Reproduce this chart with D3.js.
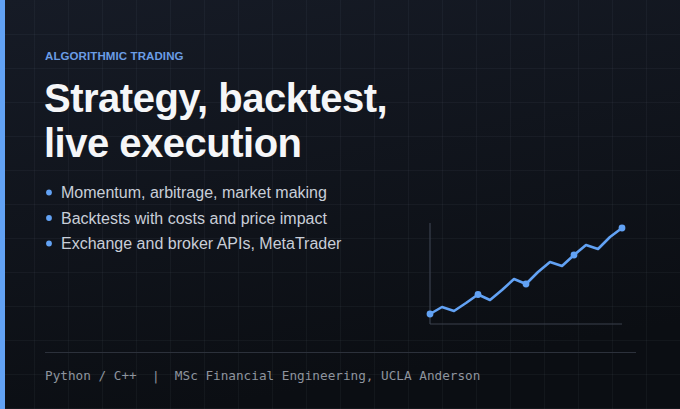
<!DOCTYPE html>
<html>
<head>
<meta charset="utf-8">
<script src="https://cdn.jsdelivr.net/npm/d3@7"></script>
<style>
  html, body { margin: 0; padding: 0; background: #0d1117; }
  svg { display: block; }
</style>
</head>
<body>
<svg width="680" height="409"></svg>
<script>
// card content
const kicker = "ALGORITHMIC TRADING";
const titleLines = ["Strategy, backtest,", "live execution"];
const bullets = [
    "Momentum, arbitrage, market making",
    "Backtests with costs and price impact",
    "Exchange and broker APIs, MetaTrader"
];
const footer = "Python / C++  |  MSc Financial Engineering, UCLA Anderson";

// equity curve (arbitrary units, 0-100)
const steps = d3.range(17);
const equity = [10, 17, 13, 21, 29.5, 24, 34, 45, 40, 52, 62, 58, 69, 79, 75, 87, 96];
const markedSteps = [0, 4, 8, 12, 16];

const svg = d3.select("svg");
const width = 680, height = 409;
const accent = "#62a2f4";

// background gradient
const defs = svg.append("defs");
const grad = defs.append("linearGradient")
    .attr("id", "bg")
    .attr("x1", 0).attr("y1", 0).attr("x2", 0.3).attr("y2", 1);
grad.append("stop").attr("offset", "0%").attr("stop-color", "#161b26");
grad.append("stop").attr("offset", "100%").attr("stop-color", "#0b0e13");

svg.append("rect")
    .attr("width", width).attr("height", height)
    .attr("fill", "url(#bg)");

// faint grid, 34px cells
const grid = svg.append("g").attr("stroke", "rgba(160,175,200,0.055)").attr("stroke-width", 1);
grid.selectAll("line.v")
    .data(d3.range(34, width, 34))
    .join("line")
    .attr("class", "v")
    .attr("x1", d => d + 0.5).attr("x2", d => d + 0.5)
    .attr("y1", 0).attr("y2", height);
grid.selectAll("line.h")
    .data(d3.range(34, height, 34))
    .join("line")
    .attr("class", "h")
    .attr("y1", d => d + 0.5).attr("y2", d => d + 0.5)
    .attr("x1", 0).attr("x2", width);

// left accent bar
svg.append("rect")
    .attr("width", 5).attr("height", height)
    .attr("fill", accent);

// kicker
svg.append("text")
    .attr("x", 45).attr("y", 60)
    .attr("fill", "#6b9de6")
    .style("font-family", "'Liberation Sans', Arial, sans-serif")
    .style("font-size", "11.5px")
    .style("font-weight", "bold")
    .style("letter-spacing", "0.1px")
    .text(kicker);

// title
svg.append("g")
    .selectAll("text")
    .data(titleLines)
    .join("text")
    .attr("x", 44)
    .attr("y", (d, i) => 112 + i * 45)
    .attr("fill", "#f5f6f8")
    .style("font-family", "'Liberation Sans', Arial, sans-serif")
    .style("font-size", "40px")
    .style("font-weight", "bold")
    .style("letter-spacing", "-0.5px")
    .text(d => d);

// bullets
const items = svg.append("g")
    .selectAll("g")
    .data(bullets)
    .join("g")
    .attr("transform", (d, i) => `translate(0, ${198 + i * 25.5})`);
items.append("circle")
    .attr("cx", 49).attr("cy", -5.5).attr("r", 2.9)
    .attr("fill", accent);
items.append("text")
    .attr("x", 61).attr("y", 0)
    .attr("fill", "#c8ced8")
    .style("font-family", "'Liberation Sans', Arial, sans-serif")
    .style("font-size", "16px")
    .text(d => d);

// mini equity chart
const x = d3.scaleLinear().domain([0, 16]).range([430, 622]);
const y = d3.scaleLinear().domain([0, 100]).range([324, 224]);

const axes = svg.append("g").attr("stroke", "#3a404d").attr("stroke-width", 1.2).attr("fill", "none");
axes.append("line")
    .attr("x1", x.range()[0]).attr("x2", x.range()[0])
    .attr("y1", y.range()[1] - 1).attr("y2", y.range()[0]);
axes.append("line")
    .attr("x1", x.range()[0]).attr("x2", x.range()[1])
    .attr("y1", y.range()[0]).attr("y2", y.range()[0]);

const line = d3.line()
    .x(d => x(d))
    .y(d => y(equity[d]));

svg.append("path")
    .datum(steps)
    .attr("d", line)
    .attr("fill", "none")
    .attr("stroke", accent)
    .attr("stroke-width", 2.6)
    .attr("stroke-linejoin", "round")
    .attr("stroke-linecap", "round");

svg.append("g")
    .selectAll("circle")
    .data(markedSteps)
    .join("circle")
    .attr("cx", d => x(d))
    .attr("cy", d => y(equity[d]))
    .attr("r", 3.4)
    .attr("fill", accent);

// footer
svg.append("line")
    .attr("x1", 45).attr("x2", 636)
    .attr("y1", 352.5).attr("y2", 352.5)
    .attr("stroke", "#2c313b")
    .attr("stroke-width", 1.2);

svg.append("text")
    .attr("x", 45).attr("y", 380)
    .attr("fill", "#8e949e")
    .attr("xml:space", "preserve")
    .style("white-space", "pre")
    .style("font-family", "'DejaVu Sans Mono', monospace")
    .style("font-size", "12.7px")
    .text(footer);
</script>
</body>
</html>
